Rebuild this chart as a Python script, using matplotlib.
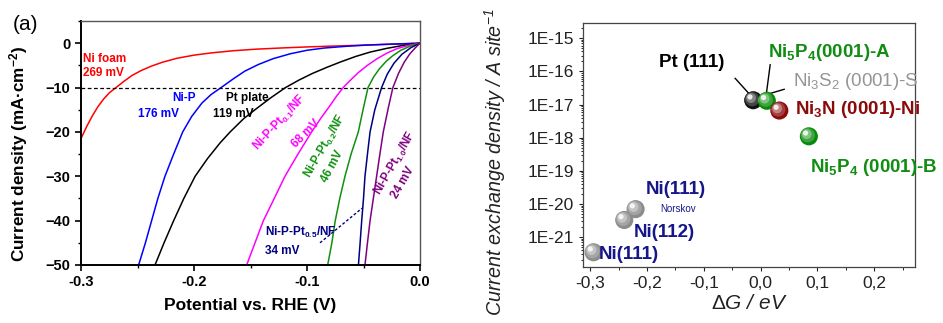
import matplotlib
matplotlib.use("Agg")
import matplotlib.pyplot as plt
import matplotlib.transforms as mtransforms
from matplotlib.ticker import MultipleLocator, FixedLocator, FuncFormatter, LogLocator, NullFormatter
import numpy as np

plt.rcParams['font.family'] = ['Liberation Sans', 'DejaVu Sans']
plt.rcParams['mathtext.fontset'] = 'custom'
plt.rcParams['mathtext.rm'] = 'Liberation Sans'
plt.rcParams['mathtext.it'] = 'Liberation Sans:italic'
plt.rcParams['mathtext.bf'] = 'Liberation Sans:bold'
plt.rcParams['mathtext.default'] = 'regular'

# ---------------- Panel (a) data: polarization curves ----------------
nifoam_E = [-0.300, -0.295, -0.290, -0.285, -0.280, -0.275, -0.269, -0.262, -0.255, -0.247, -0.238, -0.228,
            -0.215, -0.200, -0.185, -0.165, -0.145, -0.120, -0.095, -0.070, -0.045, -0.020, 0.0]
nifoam_j = [-21.5, -18.8, -16.4, -14.3, -12.6, -11.2, -10.0, -8.6, -7.3, -6.2, -5.2, -4.3,
            -3.4, -2.7, -2.2, -1.7, -1.35, -1.05, -0.8, -0.6, -0.4, -0.2, 0.0]

nip_E = [-0.249, -0.243, -0.2375, -0.232, -0.2257, -0.218, -0.210, -0.202, -0.193, -0.185, -0.176, -0.165,
         -0.155, -0.143, -0.130, -0.115, -0.100, -0.085, -0.065, -0.045, -0.025, 0.0]
nip_j = [-50, -45, -40, -35, -30, -25, -20, -16.5, -13.5, -11.6, -10, -8.0,
         -6.3, -4.8, -3.5, -2.4, -1.6, -1.1, -0.7, -0.4, -0.2, 0.0]

pt_E = [-0.2345, -0.2265, -0.218, -0.209, -0.199, -0.188, -0.177, -0.168, -0.156, -0.145, -0.132, -0.119,
        -0.107, -0.095, -0.082, -0.070, -0.057, -0.044, -0.030, -0.015, 0.0]
pt_j = [-50, -45, -40, -35, -30, -26, -22.5, -20, -17, -14.8, -12.3, -10,
        -8.3, -6.8, -5.4, -4.2, -3.0, -2.0, -1.2, -0.5, 0.0]

pt01_E = [-0.1534, -0.146, -0.1386, -0.129, -0.1195, -0.108, -0.0959, -0.088, -0.080, -0.074, -0.068,
          -0.061, -0.054, -0.046, -0.038, -0.029, -0.020, -0.010, 0.0]
pt01_j = [-50, -45, -40, -35, -30, -25, -20, -17, -14.2, -12, -10,
          -8.2, -6.5, -4.9, -3.5, -2.2, -1.2, -0.5, 0.0]

pt02_E = [-0.0817, -0.078, -0.075, -0.071, -0.0664, -0.061, -0.0546, -0.050, -0.046, -0.041, -0.036,
          -0.030, -0.024, -0.017, -0.009, 0.0]
pt02_j = [-50, -45, -40, -35, -30, -25, -20, -14.5, -10, -7.6, -5.8,
          -4.1, -2.8, -1.6, -0.7, 0.0]

pt05_E = [-0.0545, -0.053, -0.0516, -0.050, -0.0487, -0.0465, -0.0442, -0.040, -0.034, -0.029, -0.023,
          -0.016, -0.008, 0.0]
pt05_j = [-50, -45, -40, -35, -30, -25, -20, -15, -10, -7, -4.5, -2.5, -1.0, 0.0]

pt10_E = [-0.0487, -0.0465, -0.0442, -0.0413, -0.0384, -0.0355, -0.0325, -0.028, -0.024, -0.019, -0.014,
          -0.009, -0.004, 0.0]
pt10_j = [-50, -45, -40, -35, -30, -25, -20, -14.5, -10, -6.8, -4.3, -2.4, -1.0, 0.0]

curve_colors = ['#ff0000', '#0000ff', '#000000', '#ff00ff', '#109010', '#000080', '#800080']

xticks_a = [-0.3, -0.2, -0.1, 0.0]
yticks_a = [0, -10, -20, -30, -40, -50]

# ---------------- Panel (b) data: volcano points ----------------
dG = [-0.294, -0.240, -0.220, -0.013, 0.011, 0.033, 0.085]
j0 = [3.5e-22, 3.3e-21, 7.0e-21, 1.35e-17, 1.3e-17, 6.6e-18, 1.1e-18]
pt_colors = ['#8c8c8c', '#8c8c8c', '#8c8c8c', '#111111', '#0a8a0a', '#8b0a0a', '#0a8a0a']
xticks_b = [-0.3, -0.2, -0.1, 0.0, 0.1, 0.2]
yticks_b_exp = [-21, -20, -19, -18, -17, -16, -15]

fig = plt.figure(figsize=(9.43, 3.23), dpi=100)

# ================= Panel (a) =================
ax = fig.add_axes([0.0859, 0.1796, 0.3595, 0.7554])
series = [(nifoam_E, nifoam_j), (nip_E, nip_j), (pt_E, pt_j), (pt01_E, pt01_j),
          (pt02_E, pt02_j), (pt05_E, pt05_j), (pt10_E, pt10_j)]
for (E, j), c in zip(series, curve_colors):
    ax.plot(E, j, color=c, lw=1.1, clip_on=True, solid_joinstyle='round')
ax.axhline(-10, color='black', ls=(0, (3, 2)), lw=0.9)
ax.set_xlim(-0.3, 0.0)
ax.set_ylim(-50, 5)
ax.xaxis.set_major_locator(FixedLocator(xticks_a))
ax.yaxis.set_major_locator(FixedLocator(yticks_a))
ax.xaxis.set_minor_locator(MultipleLocator(0.05))
ax.yaxis.set_minor_locator(MultipleLocator(5))
ax.xaxis.set_major_formatter(FuncFormatter(lambda v, p: f"{v:.1f}" if abs(v) > 1e-9 else "0.0"))
ax.tick_params(which='major', direction='out', length=4, width=1.2, labelsize=10.5)
ax.tick_params(which='minor', direction='out', length=2.5, width=1.0)
for lab in ax.get_xticklabels() + ax.get_yticklabels():
    lab.set_fontweight('bold')
ax.spines['left'].set_linewidth(1.4)
ax.spines['bottom'].set_linewidth(1.4)
for s in ['top', 'right']:
    ax.spines[s].set_color('#555555')
    ax.spines[s].set_linewidth(1.0)
ax.set_xlabel("Potential vs. RHE (V)", fontsize=12.5, fontweight='bold', labelpad=6)
ax.set_ylabel("Current density (mA·cm$^{-2}$)", fontsize=12.3, fontweight='bold')
ax.yaxis.set_label_coords(-0.15, 0.455)
fig.text(0.014, 0.925, "(a)", fontsize=15, va='center', ha='left')

fs = 8.5
ax.text(-0.2982, -3.6, "Ni foam", color='#ff0000', fontsize=fs, fontweight='bold', va='center')
ax.text(-0.2982, -6.8, "269 mV", color='#ff0000', fontsize=fs, fontweight='bold', va='center')
ax.text(-0.2195, -12.4, "Ni-P", color='#0000ff', fontsize=fs, fontweight='bold', va='center')
ax.text(-0.2496, -16.0, "176 mV", color='#0000ff', fontsize=fs, fontweight='bold', va='center')
ax.text(-0.1717, -12.4, "Pt plate", color='black', fontsize=fs, fontweight='bold', va='center')
ax.text(-0.1832, -16.0, "119 mV", color='black', fontsize=fs, fontweight='bold', va='center')
ax.text(-0.1239, -18.0, r"Ni-P-Pt$_{0.1}$/NF", color='#ff00ff', fontsize=fs, fontweight='bold',
        ha='center', va='center', rotation=47)
ax.text(-0.1009, -20.3, "68 mV", color='#ff00ff', fontsize=fs, fontweight='bold',
        ha='center', va='center', rotation=45)
ax.text(-0.0841, -23.2, r"Ni-P-Pt$_{0.2}$/NF", color='#109010', fontsize=fs, fontweight='bold',
        ha='center', va='center', rotation=60)
ax.text(-0.0779, -27.7, "46 mV", color='#109010', fontsize=fs, fontweight='bold',
        ha='center', va='center', rotation=62)
ax.text(-0.0221, -27.0, r"Ni-P-Pt$_{1.0}$/NF", color='#800080', fontsize=fs, fontweight='bold',
        ha='center', va='center', rotation=60)
ax.text(-0.0150, -31.5, "24 mV", color='#800080', fontsize=fs, fontweight='bold',
        ha='center', va='center', rotation=60)
ax.text(-0.1372, -42.6, r"Ni-P-Pt$_{0.5}$/NF", color='#000080', fontsize=fs, fontweight='bold', va='center')
ax.text(-0.1372, -46.8, "34 mV", color='#000080', fontsize=fs, fontweight='bold', va='center')
ax.plot([-0.0885, -0.0513], [-45.0, -37.2], color='#000080', ls=(0, (2, 1.5)), lw=1.0)

# ================= Panel (b) =================
bx = fig.add_axes([0.618, 0.1734, 0.3524, 0.7554])
bx.set_yscale('log')
bx.set_xlim(-0.313, 0.272)
bx.set_ylim(10 ** -21.9, 10 ** -14.54)

# shaded spheres
bx.scatter(dG, j0, s=170, c=pt_colors, edgecolors='none', zorder=3)
for i, (sz, a) in enumerate([(105, 0.22), (50, 0.35), (14, 0.85)]):
    off = mtransforms.ScaledTranslation(-1.3 / 72 * (i + 1) * 0.6, 1.3 / 72 * (i + 1) * 0.6, fig.dpi_scale_trans)
    bx.scatter(dG, j0, s=sz, c='white', alpha=a, edgecolors='none', zorder=4 + i,
               transform=bx.transData + off)

bx.xaxis.set_major_locator(FixedLocator(xticks_b))
bx.xaxis.set_minor_locator(MultipleLocator(0.05))
bx.xaxis.set_major_formatter(FuncFormatter(lambda v, p: (f"{v:.1f}" if abs(v) > 1e-9 else "0.0").replace('.', ',')))
bx.yaxis.set_major_locator(FixedLocator([10.0 ** e for e in yticks_b_exp]))
bx.yaxis.set_major_formatter(FuncFormatter(lambda v, p: f"1E{int(round(np.log10(v)))}"))
bx.yaxis.set_minor_locator(LogLocator(base=10, subs=np.arange(2, 10)))
bx.yaxis.set_minor_formatter(NullFormatter())
bx.tick_params(which='major', direction='out', length=3, width=0.8, labelsize=12.5, colors='#222222')
bx.tick_params(which='minor', direction='out', length=1.8, width=0.6)
for s in bx.spines.values():
    s.set_color('#444444')
    s.set_linewidth(0.9)
bx.set_xlabel(r"$\mathit{\Delta G}$ / eV", fontsize=15, style='italic', labelpad=2, color='#222222')
bx.set_ylabel(r"Current exchange density / A site$^{-1}$", fontsize=14.2, style='italic',
              color='#222222')
bx.yaxis.set_label_coords(-0.225, 0.43)

fsb = 13.5
navy = '#16168a'
green = '#128c12'
bx.text(-0.122, 10 ** -15.74, "Pt (111)", color='black', fontsize=fsb, fontweight='bold', ha='center', va='center')
bx.text(0.0134, 10 ** -15.44, r"Ni$_5$P$_4$(0001)-A", color=green, fontsize=fsb, fontweight='bold', va='center')
bx.text(0.0574, 10 ** -16.29, r"Ni$_3$S$_2$ (0001)-S", color='#959595', fontsize=fsb, va='center')
bx.text(0.061, 10 ** -17.16, r"Ni$_3$N (0001)-Ni", color='#8b0a0a', fontsize=fsb, fontweight='bold', va='center')
bx.text(0.0873, 10 ** -18.91, r"Ni$_5$P$_4$ (0001)-B", color=green, fontsize=fsb, fontweight='bold', va='center')
bx.text(-0.2014, 10 ** -19.57, "Ni(111)", color=navy, fontsize=fsb, fontweight='bold', va='center')
bx.text(-0.1768, 10 ** -20.14, "Norskov", color=navy, fontsize=7, va='center')
bx.text(-0.2225, 10 ** -20.86, "Ni(112)", color=navy, fontsize=fsb, fontweight='bold', va='center')
bx.text(-0.2842, 10 ** -21.52, "Ni(111)", color=navy, fontsize=fsb, fontweight='bold', va='center', zorder=8)
bx.plot([-0.0447, -0.0183], [10 ** -16.21, 10 ** -16.71], color='black', lw=1.0, zorder=2)
bx.plot([0.0169, 0.0099], [10 ** -15.80, 10 ** -16.71], color='black', lw=1.0, zorder=2)
bx.plot([0.0415, 0.008], [10 ** -16.54, 10 ** -16.71], color='black', lw=1.0, zorder=2)

fig.savefig("out.png", dpi=100)
